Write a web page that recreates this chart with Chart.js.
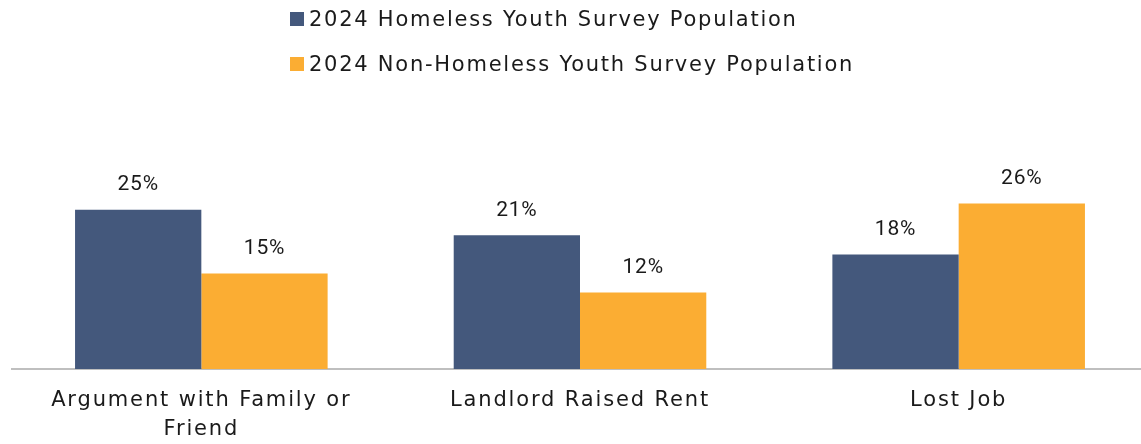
<!DOCTYPE html>
<html>
<head>
<meta charset="utf-8">
<script src="https://cdn.jsdelivr.net/npm/chart.js@4.4.1/dist/chart.umd.min.js"></script>
<style>
  html, body { margin: 0; padding: 0; background: #ffffff; overflow: hidden; width: 1141px; height: 444px; }
  #wrap { position: absolute; left: 0; top: 0; width: 1148px; height: 461px; }
  #legend { position: absolute; left: 290px; top: 0; font-family: "DejaVu Sans", sans-serif; font-size: 21px; letter-spacing: 1.75px; color: #1a1a1a; }
  .item { position: absolute; left: 0; white-space: nowrap; display: flex; align-items: center; }
  .box { width: 14px; height: 14px; margin-right: 5px; }
</style>
</head>
<body>
<div id="wrap"><canvas id="c" width="1148" height="461"></canvas></div>
<div id="legend"></div>
<script>
const categories = [["Argument with Family or", "Friend"], "Landlord Raised Rent", "Lost Job"];
const seriesNames = ["2024 Homeless Youth Survey Population", "2024 Non-Homeless Youth Survey Population"];
const homeless = [25, 21, 18];
const nonHomeless = [15, 12, 26];
const colors = ["#44587C", "#FBAD33"];

const legendEl = document.getElementById('legend');
seriesNames.forEach((name, i) => {
  const d = document.createElement('div');
  d.className = 'item';
  d.style.top = (i === 0 ? 7 : 52) + 'px';
  d.innerHTML = '<span class="box" style="background:' + colors[i] + '"></span><span>' + name + '</span>';
  legendEl.appendChild(d);
});

const spacing = {
  id: 'spacing',
  beforeDraw(chart) { chart.ctx.letterSpacing = '1.85px'; }
};

const valueLabels = {
  id: 'valueLabels',
  afterDatasetsDraw(chart) {
    const ctx = chart.ctx;
    ctx.save();
    ctx.letterSpacing = '0.8px';
    ctx.font = '21px Roboto';
    ctx.fillStyle = '#1a1a1a';
    ctx.textAlign = 'center';
    ctx.textBaseline = 'middle';
    chart.data.datasets.forEach((ds, i) => {
      chart.getDatasetMeta(i).data.forEach((bar, j) => {
        ctx.fillText(ds.data[j] + '%', bar.x, bar.y - 25);
      });
    });
    ctx.restore();
  }
};

new Chart(document.getElementById('c'), {
  type: 'bar',
  data: {
    labels: categories,
    datasets: [
      { label: seriesNames[0], data: homeless, backgroundColor: colors[0] },
      { label: seriesNames[1], data: nonHomeless, backgroundColor: colors[1] }
    ]
  },
  options: {
    responsive: false,
    animation: false,
    events: [],
    layout: { padding: { top: 178, left: 12, right: 0, bottom: 0 } },
    plugins: { legend: { display: false }, tooltip: { enabled: false } },
    datasets: { bar: { categoryPercentage: 0.667, barPercentage: 1.0 } },
    scales: {
      x: {
        grid: { display: false, drawTicks: false },
        border: { display: true, color: '#BFBFBF', width: 2 },
        ticks: { color: '#1a1a1a', font: { family: 'DejaVu Sans', size: 21, lineHeight: 1.38 }, padding: 17, maxRotation: 0, autoSkip: false }
      },
      y: {
        display: false,
        min: 0,
        max: 30
      }
    }
  },
  plugins: [spacing, valueLabels]
});
</script>
</body>
</html>
